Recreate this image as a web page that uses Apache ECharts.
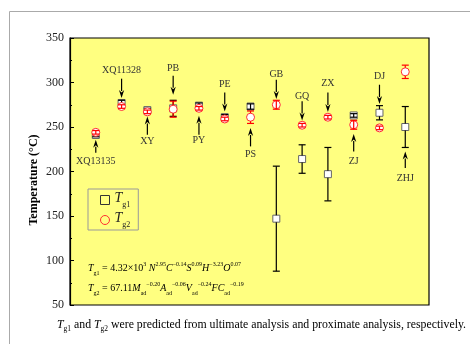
<!DOCTYPE html>
<html><head><meta charset="utf-8">
<script src="https://cdn.jsdelivr.net/npm/echarts@6/dist/echarts.min.js"></script>
<style>html,body{margin:0;padding:0;background:#fff}#c{width:470px;height:344px}</style>
</head><body><div id="c"></div>
<script>
const categories = ['XQ13135','XQ11328','XY','PB','PY','PE','PS','GB','GQ','ZX','ZJ','DJ','ZHJ'];
const tg1 = [241, 277, 269, 271, 274, 261, 273, 147, 214, 197, 263, 266, 250];
const tg1Err = [2, 3, 2, 9, 3, 3, 3, 59, 16, 30, 2, 8, 23];
const tg2 = [244, 273, 267, 270, 271, 259, 261, 275, 252, 261, 252.5, 249, 312];
const tg2Err = [2, 2, 2, 9, 2, 2, 7, 5, 2, 2, 5, 2, 7.5];
// annotation label / arrow tail / arrow tip (temperature units)
const labelY = [211, 314, 233.8, 315.5, 234.6, 298.3, 218.9, 309.1, 284.8, 299.4, 211, 306.9, 192.7];
const tailY = [221.1, 304.3, 241.3, 307.6, 241.3, 288.9, 228.2, 303.1, 278.8, 288.9, 222.6, 297.5, 203.9];
const tipY = [235.7, 282.6, 261.9, 286.3, 262.7, 267.5, 248.9, 281.5, 257.4, 266.9, 242.1, 275.8, 222.6];
const yTicks = [50, 100, 150, 200, 250, 300, 350];

const SERIF = '"Liberation Serif","Times New Roman",serif';
const chart = echarts.init(document.getElementById('c'), null, {renderer: 'canvas'});

function errRender(color, half) {
  return function (params, api) {
    const x = api.value(0), y = api.value(1), e = api.value(2);
    const c = api.coord([x, y]);
    const t = api.coord([x, y + e]);
    const b = api.coord([x, y - e]);
    const hw = 3.5;
    const st = {stroke: color, lineWidth: 1.2};
    const ch = [];
    if (c[1] - t[1] > half + 1) {
      ch.push({type: 'line', shape: {x1: c[0], y1: t[1], x2: c[0], y2: c[1] - half}, style: st});
      ch.push({type: 'line', shape: {x1: c[0], y1: c[1] + half, x2: c[0], y2: b[1]}, style: st});
    } else {
      ch.push({type: 'line', shape: {x1: c[0], y1: t[1], x2: c[0], y2: b[1]}, style: st});
    }
    ch.push({type: 'line', shape: {x1: c[0] - hw, y1: t[1], x2: c[0] + hw, y2: t[1]}, style: st});
    ch.push({type: 'line', shape: {x1: c[0] - hw, y1: b[1], x2: c[0] + hw, y2: b[1]}, style: st});
    return {type: 'group', children: ch};
  };
}

function annRender(params, api) {
  const i = params.dataIndex;
  const x = api.value(0);
  const lp = api.coord([x, api.value(1)]);
  const tp = api.coord([x, api.value(2)]);
  const hp = api.coord([x, api.value(3)]);
  const dir = hp[1] > tp[1] ? 1 : -1;
  const ah = 7, aw = 2.6;
  const baseY = hp[1] - dir * ah;
  return {type: 'group', children: [
    {type: 'text', style: {text: categories[i], x: lp[0], y: lp[1], align: 'center', verticalAlign: 'middle',
      font: '10px ' + SERIF, fill: '#333'}},
    {type: 'line', shape: {x1: tp[0], y1: tp[1], x2: hp[0], y2: baseY}, style: {stroke: '#000', lineWidth: 1.2}},
    {type: 'polygon', shape: {points: [[hp[0], hp[1]], [hp[0] - aw, baseY - dir * 1], [hp[0], baseY + dir * 1.5], [hp[0] + aw, baseY - dir * 1]]},
      style: {fill: '#000'}}
  ]};
}

const fRich = {
  n: {fontFamily: SERIF, fontSize: 10, color: '#222'},
  i: {fontFamily: SERIF, fontSize: 10, fontStyle: 'italic', color: '#222'},
  sp: {fontFamily: SERIF, fontSize: 6, color: '#222', verticalAlign: 'top', lineHeight: 15},
  sb: {fontFamily: SERIF, fontSize: 6, color: '#222', verticalAlign: 'bottom', lineHeight: 15}
};

const option = {
  animation: false,
  backgroundColor: '#fff',
  grid: {left: 70, right: 41, top: 38, bottom: 39, show: true, backgroundColor: '#FFFF80', borderColor: '#000', borderWidth: 1.2},
  xAxis: {type: 'value', min: 0, max: 13.92, show: false},
  yAxis: {
    type: 'value', min: yTicks[0], max: yTicks[yTicks.length - 1], interval: 50,
    axisLine: {show: true, lineStyle: {color: '#000', width: 1.2}},
    axisTick: {show: true, inside: true, length: 4, lineStyle: {color: '#000'}},
    minorTick: {show: true, splitNumber: 2, length: 2, lineStyle: {color: '#000'}},
    splitLine: {show: false},
    axisLabel: {fontFamily: SERIF, fontSize: 12, color: '#222', margin: 6}
  },
  legend: {
    orient: 'vertical', left: 88, top: 189, padding: [2, 8, 1, 12], itemGap: 2,
    borderColor: '#999', borderWidth: 1, itemWidth: 9, itemHeight: 9,
    data: [{name: 'Tg1', icon: 'rect', itemStyle: {color: 'transparent', borderColor: '#333', borderWidth: 1}},
           {name: 'Tg2', icon: 'circle', itemStyle: {color: 'transparent', borderColor: '#ff3030', borderWidth: 1}}],
    formatter: n => '{i|T}{s|' + n.slice(1) + '}',
    textStyle: {rich: {
      i: {fontFamily: SERIF, fontSize: 14, fontStyle: 'italic', color: '#222', verticalAlign: 'top', lineHeight: 18},
      s: {fontFamily: SERIF, fontSize: 8, color: '#222', verticalAlign: 'bottom', lineHeight: 18}
    }}
  },
  series: [
    {name: 'Tg1', type: 'scatter', symbol: 'rect', symbolSize: 7, z: 3,
      itemStyle: {color: '#fff', borderColor: '#666', borderWidth: 1, opacity: 1},
      data: tg1.map((v, i) => [i + 1, v])},
    {name: 'Tg1err', type: 'custom', z: 4, renderItem: errRender('#000', 3.5),
      data: tg1.map((v, i) => [i + 1, v, tg1Err[i]])},
    {name: 'Tg2', type: 'scatter', symbol: 'circle', symbolSize: 8, z: 5,
      itemStyle: {color: '#fff', borderColor: '#ff3030', borderWidth: 1, opacity: 1},
      data: tg2.map((v, i) => [i + 1, v])},
    {name: 'Tg2err', type: 'custom', z: 6, renderItem: errRender('#ff0000', 4),
      data: tg2.map((v, i) => [i + 1, v, tg2Err[i]])},
    {name: 'ann', type: 'custom', z: 7, renderItem: annRender,
      data: categories.map((c, i) => [i + 1, labelY[i], tailY[i], tipY[i]])}
  ],
  graphic: [
    {type: 'line', shape: {x1: 9.5, y1: 11.5, x2: 470, y2: 11.5}, style: {stroke: '#aaa', lineWidth: 1}},
    {type: 'line', shape: {x1: 9.5, y1: 11.5, x2: 9.5, y2: 344}, style: {stroke: '#aaa', lineWidth: 1}},
    {type: 'text', x: 34, y: 180, rotation: Math.PI / 2, z: 10, style: {
      text: 'Temperature (°C)', align: 'center', verticalAlign: 'middle',
      font: 'bold 12px ' + SERIF, fill: '#000'}},
    {type: 'text', left: 88, top: 261, z: 10, style: {
      text: '{i|T}{sb|g1}{n| = 4.32×10}{sp|3}{n| }{i|N}{sp|2.95}{i|C}{sp|−0.14}{i|S}{sp|0.09}{i|H}{sp|−3.23}{i|O}{sp|0.07}',
      rich: fRich}},
    {type: 'text', left: 88, top: 281, z: 10, style: {
      text: '{i|T}{sb|g2}{n| = 67.11}{i|M}{sb|ad}{sp|−0.20}{i|A}{sb|ad}{sp|−0.06}{i|V}{sb|ad}{sp|−0.24}{i|FC}{sb|ad}{sp|−0.19}',
      rich: fRich}},
    {type: 'text', left: 57, top: 319, z: 10, style: {
      text: '{i|T}{sb|g1}{n| and }{i|T}{sb|g2}{n| were predicted from ultimate analysis and proximate analysis, respectively.}',
      rich: {
        n: {fontFamily: SERIF, fontSize: 11.8, color: '#222'},
        i: {fontFamily: SERIF, fontSize: 11.8, fontStyle: 'italic', color: '#222'},
        sb: {fontFamily: SERIF, fontSize: 7.5, color: '#222', verticalAlign: 'bottom', lineHeight: 17}
      }}}
  ]
};
chart.setOption(option);
</script>
</body></html>
